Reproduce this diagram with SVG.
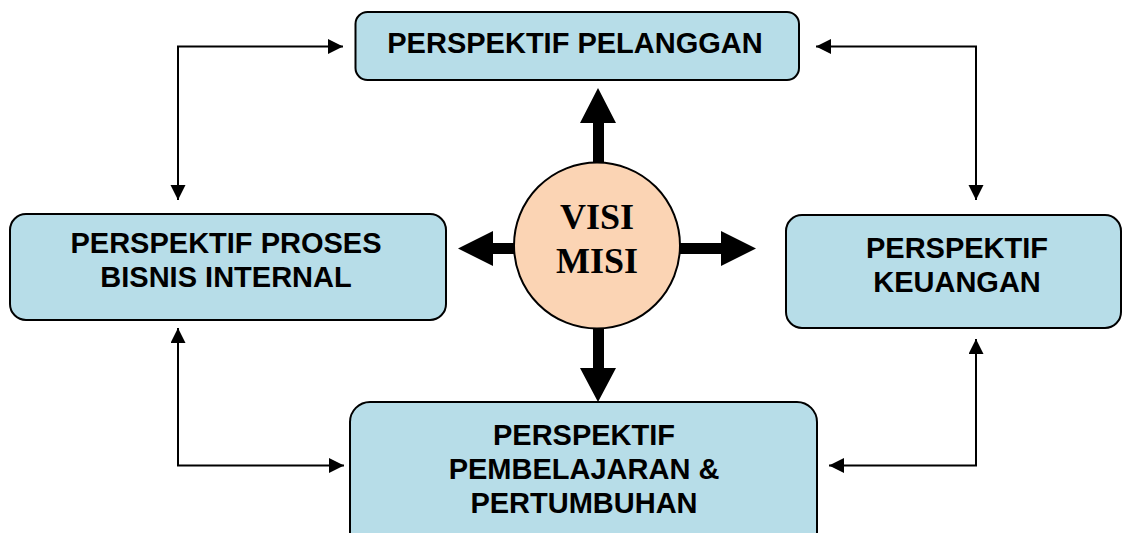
<svg xmlns="http://www.w3.org/2000/svg" width="1123" height="533" viewBox="0 0 1123 533">
<style>
.box{fill:#B7DDE8;stroke:#000;stroke-width:2}
.lbl{font-family:"Liberation Sans",Arial,sans-serif;font-weight:bold;font-size:29px;fill:#000;text-anchor:middle}
.vm{font-family:"Liberation Serif","Times New Roman",serif;font-weight:bold;font-size:36px;fill:#000;text-anchor:middle}
.thin{fill:none;stroke:#000;stroke-width:2;marker-start:url(#ah);marker-end:url(#ah)}
.big{fill:#000}
</style>
<defs>
<marker id="ah" markerUnits="userSpaceOnUse" markerWidth="16" markerHeight="16" refX="15" refY="7.5" orient="auto-start-reverse">
<path d="M0,0 L15,7.5 L0,15 Z" fill="#000"/>
</marker>
</defs>
<rect width="1123" height="533" fill="#fff"/>
<g id="connectors">
<polyline class="thin" points="178,200 178,46.5 343,46.5"/>
<polyline class="thin" points="976,200 976,46.5 816,46.5"/>
<polyline class="thin" points="178,328 178,465.5 344,465.5"/>
<polyline class="thin" points="976,339 976,465.5 829,465.5"/>
<path class="big" d="M593,165 L593,123 L580,123 L598,88 L616,123 L604,123 L604,165 Z"/>
<path class="big" d="M593,326 L593,368 L580,368 L598,402 L616,368 L604,368 L604,326 Z"/>
<path class="big" d="M516,243 L493,243 L493,231 L458,248.5 L493,266 L493,254 L516,254 Z"/>
<path class="big" d="M678,243 L721,243 L721,231 L756,248.5 L721,266 L721,254 L678,254 Z"/>
</g>
<g id="pelanggan">
<rect class="box" x="355.5" y="12" width="443.5" height="68" rx="12"/>
<text class="lbl" x="575" y="53">PERSPEKTIF PELANGGAN</text>
</g>
<g id="proses">
<rect class="box" x="10" y="214" width="436" height="106" rx="16"/>
<text class="lbl" x="226" y="253">PERSPEKTIF PROSES</text>
<text class="lbl" x="226" y="287">BISNIS INTERNAL</text>
</g>
<g id="keuangan">
<rect class="box" x="786" y="215" width="335" height="113" rx="16"/>
<text class="lbl" x="957" y="258">PERSPEKTIF</text>
<text class="lbl" x="957" y="292">KEUANGAN</text>
</g>
<g id="pembelajaran">
<rect class="box" x="350" y="402" width="467" height="150" rx="20"/>
<text class="lbl" x="584" y="445">PERSPEKTIF</text>
<text class="lbl" x="584" y="479">PEMBELAJARAN &amp;</text>
<text class="lbl" x="584" y="513">PERTUMBUHAN</text>
</g>
<g id="visimisi">
<circle cx="597" cy="245.5" r="83" fill="#FBD4B4" stroke="#000" stroke-width="2"/>
<text class="vm" x="597" y="229">VISI</text>
<text class="vm" x="597" y="273">MISI</text>
</g>
</svg>
